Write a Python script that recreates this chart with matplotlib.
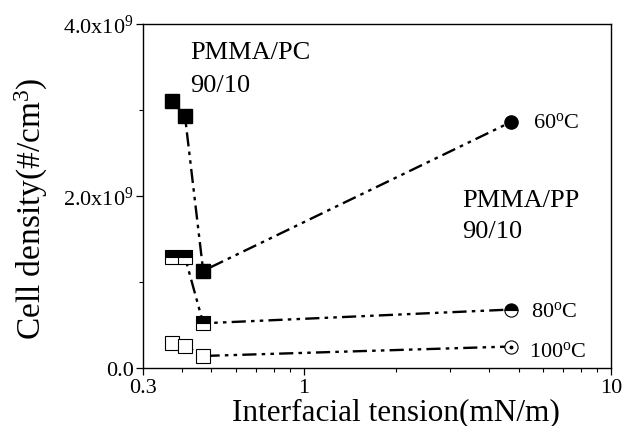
import numpy as np
import matplotlib
matplotlib.use("Agg")
import matplotlib.pyplot as plt
from matplotlib.ticker import FixedLocator, NullFormatter, LogLocator

plt.rcParams['font.family'] = ['Liberation Serif', 'DejaVu Serif']
plt.rcParams['mathtext.fontset'] = 'custom'
plt.rcParams['mathtext.rm'] = 'Liberation Serif'
plt.rcParams['mathtext.it'] = 'Liberation Serif:italic'

# interfacial tension (mN/m): three PMMA/PC points + one PMMA/PP point
tension = [0.371, 0.410, 0.470, 4.72]

# cell density (#/cm^3) at each foaming temperature
dens_60 = [3.11e9, 2.93e9, 1.13e9, 2.86e9]
dens_80 = [1.29e9, 1.29e9, 0.52e9, 0.68e9]
dens_100 = [0.29e9, 0.26e9, 0.14e9, 0.25e9]

temps = ['60$^\\mathrm{o}$C', '80$^\\mathrm{o}$C', '100$^\\mathrm{o}$C']

ytick_vals = [0, 2e9, 4e9]
ytick_labels = ['0.0', '2.0x10$^9$', '4.0x10$^9$']
xtick_vals = [0.3, 1, 10]
xtick_labels = ['0.3', '1', '10']

fig = plt.figure(figsize=(6.22, 4.27), dpi=100)
ax = fig.add_axes([0.2304, 0.1358, 0.7519, 0.8056])

ls = (0, (6, 2.2, 1.5, 2.2, 1.5, 2.2))
lw = 1.7
ms = 9.5

# lines
for d in (dens_60, dens_80, dens_100):
    ax.plot(tension, d, color='black', ls=ls, lw=lw, zorder=2)

# 60 C: filled squares, filled circle
ax.plot(tension[:3], dens_60[:3], 's', ms=ms, mfc='black', mec='black', zorder=3)
ax.plot(tension[3:], dens_60[3:], 'o', ms=ms, mfc='black', mec='black', zorder=3)

# 80 C: half-filled (top) squares and circle
ax.plot(tension[:3], dens_80[:3], 's', ms=ms, fillstyle='top', mfc='black',
        markerfacecoloralt='white', mec='black', mew=0.8, zorder=3)
ax.plot(tension[3:], dens_80[3:], 'o', ms=ms, fillstyle='top', mfc='black',
        markerfacecoloralt='white', mec='black', mew=0.8, zorder=3)

# 100 C: open squares, open circle with a center dot
ax.plot(tension[:3], dens_100[:3], 's', ms=ms, mfc='white', mec='black', mew=0.8, zorder=3)
ax.plot(tension[3:], dens_100[3:], 'o', ms=ms, mfc='white', mec='black', mew=0.8, zorder=3)
ax.plot(tension[3:], dens_100[3:], 'o', ms=1.8, color='black', zorder=4)

ax.set_xscale('log')
ax.set_xlim(0.3, 10)
ax.set_ylim(0, 4e9)

ax.xaxis.set_major_locator(FixedLocator(xtick_vals))
ax.set_xticklabels(xtick_labels)
ax.xaxis.set_minor_locator(LogLocator(base=10, subs=np.arange(2, 10)))
ax.xaxis.set_minor_formatter(NullFormatter())
ax.set_yticks(ytick_vals)
ax.set_yticklabels(ytick_labels)
ax.yaxis.set_minor_locator(FixedLocator([1e9, 3e9]))

ax.tick_params(which='major', direction='out', length=5, width=0.9,
               labelsize=16, top=False, right=False, pad=2)
ax.tick_params(which='minor', direction='out', length=3, width=0.8,
               top=False, right=False)
for s in ax.spines.values():
    s.set_linewidth(1.0)

# blend labels and temperatures
ax.text(0.100, 0.900, 'PMMA/PC', transform=ax.transAxes, fontsize=19, va='baseline')
ax.text(0.100, 0.804, '90/10', transform=ax.transAxes, fontsize=19, va='baseline')
ax.text(0.681, 0.470, 'PMMA/PP', transform=ax.transAxes, fontsize=19, va='baseline')
ax.text(0.681, 0.380, '90/10', transform=ax.transAxes, fontsize=19, va='baseline')
ax.text(0.833, 0.700, temps[0], transform=ax.transAxes, fontsize=16, va='baseline')
ax.text(0.829, 0.152, temps[1], transform=ax.transAxes, fontsize=16, va='baseline')
ax.text(0.825, 0.036, temps[2], transform=ax.transAxes, fontsize=16, va='baseline')

fig.text(0.637, 1 - 420 / 427, 'Interfacial tension(mN/m)', fontsize=22.5,
         ha='center', va='baseline')
ax.set_ylabel('Cell density(#/cm$^3$)', fontsize=24)
ax.yaxis.set_label_coords(-0.2, 0.467)

fig.savefig('out.png', dpi=100)
